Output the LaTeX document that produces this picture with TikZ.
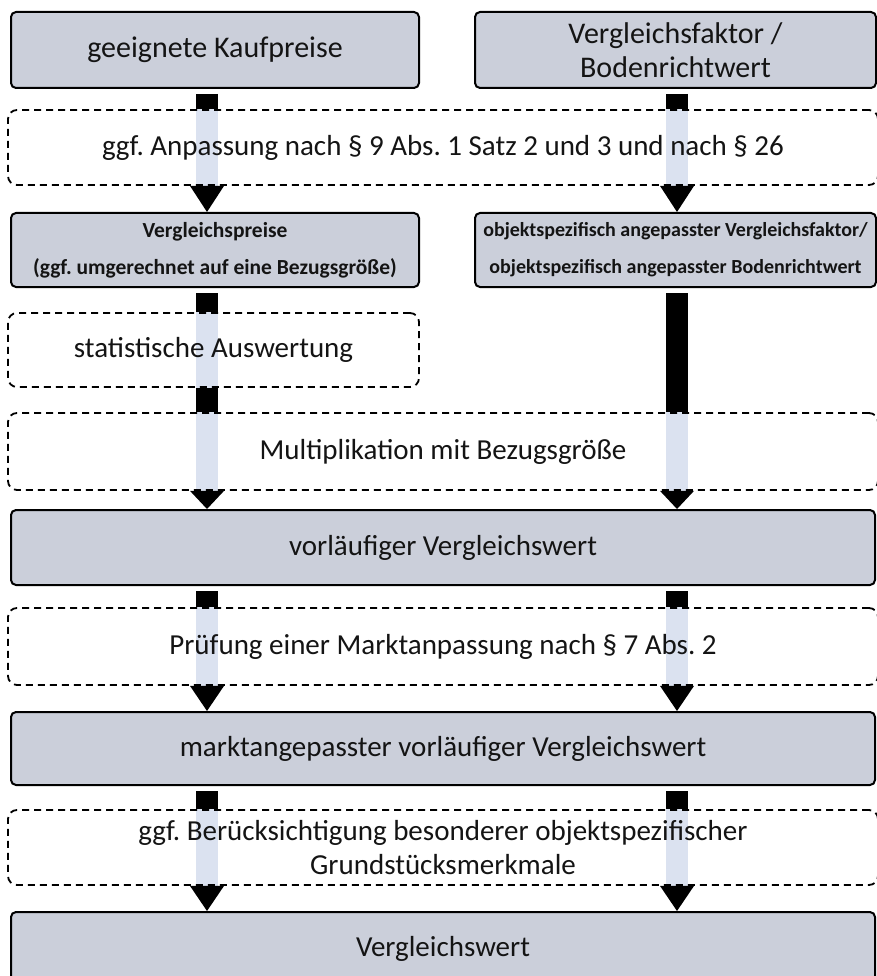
\documentclass[tikz,border=0pt]{standalone}
\usepackage{fontspec}
\setmainfont{Carlito}
\usetikzlibrary{calc,backgrounds}
\definecolor{boxgray}{RGB}{203,207,218}
\definecolor{barlight}{RGB}{219,226,240}
\definecolor{txt}{RGB}{20,20,20}
\tikzset{
  graybox/.style={draw=black, line width=2pt, fill=boxgray, rounded corners=5pt, inner sep=0pt, align=center, text=txt},
  dashbox/.style={draw=black, line width=1.8pt, dash pattern=on 7pt off 5pt, rounded corners=9pt, inner sep=0pt, align=center, text=txt},
  bigtext/.style={font=\fontsize{29}{34}\selectfont},
  toptext/.style={font=\fontsize{30}{34}\selectfont},
  smalltext/.style={font=\bfseries\fontsize{21.5}{37}\selectfont},
  smallertext/.style={font=\bfseries\fontsize{20}{37}\selectfont},
  barblack/.style={line width=22pt, draw=black},
  barpale/.style={line width=22pt, draw=barlight},
  headfill/.style={fill=black},
}
\begin{document}
\frenchspacing
\begin{tikzpicture}[x=1pt,y=-1pt]
\useasboundingbox (0,0) rectangle (877,976);
\begin{pgfonlayer}{background}
\fill[white] (0,0) rectangle (877,976);
\end{pgfonlayer}
\clip (0,0) rectangle (877,976);

% boxes
\node[graybox,toptext,minimum width=408pt,minimum height=76pt] (b1) at (215,50) {geeignete Kaufpreise};
\node[graybox,toptext,minimum width=401pt,minimum height=76pt] (b2) at (675.5,50) {Vergleichsfaktor /\\Bodenrichtwert};
\node[dashbox,bigtext,minimum width=870pt,minimum height=75pt] (d1) at (443,147.5) {ggf. Anpassung nach § 9 Abs. 1 Satz 2 und 3 und nach § 26};
\node[graybox,smalltext,minimum width=408pt,minimum height=74pt] (b3) at (215,250) {Vergleichspreise\\(ggf. umgerechnet auf eine Bezugsgröße)};
\node[graybox,smallertext,minimum width=401pt,minimum height=74pt] (b4) at (675.5,250) {objektspezifisch angepasster Vergleichsfaktor/\\objektspezifisch angepasster Bodenrichtwert};
\node[dashbox,bigtext,minimum width=411pt,minimum height=74pt] (d2) at (213.5,350) {statistische Auswertung};
\node[dashbox,bigtext,minimum width=870pt,minimum height=77pt] (d3) at (443,451.5) {Multiplikation mit Bezugsgröße};
\node[graybox,bigtext,minimum width=864pt,minimum height=75pt] (b5) at (443,547.5) {vorläufiger Vergleichswert};
\node[dashbox,bigtext,minimum width=870pt,minimum height=77pt] (d4) at (443,646.5) {Prüfung einer Marktanpassung nach § 7 Abs. 2};
\node[graybox,bigtext,minimum width=864pt,minimum height=73pt] (b6) at (443,748.5) {marktangepasster vorläufiger Vergleichswert};
\node[dashbox,bigtext,minimum width=870pt,minimum height=75pt] (d5) at (443,847.5) {ggf. Berücksichtigung besonderer objektspezifischer\\Grundstücksmerkmale};
\node[graybox,bigtext,minimum width=864pt,minimum height=74pt] (b7) at (443,949) {Vergleichswert};

\coordinate (xl) at (207,0);
\coordinate (xr) at (677,0);

% pale parts of the bars, behind the texts
\begin{pgfonlayer}{background}
\foreach \d in {d1,d3,d4,d5} {
  \draw[barpale] (\d.north -| xl) -- (\d.south -| xl);
  \draw[barpale] (\d.north -| xr) -- (\d.south -| xr);
}
\draw[barpale] (d2.north -| xl) -- (d2.south -| xl);
\end{pgfonlayer}

% left column
\draw[barblack] ($(b1.south -| xl)+(0,5)$) -- (d1.north -| xl);
\fill[headfill] ($(d1.south -| xl)+(-17,0)$) -- ($(d1.south -| xl)+(17,0)$) -- (b3.north -| xl) -- cycle;
\draw[barblack] ($(b3.south -| xl)+(0,5)$) -- (d2.north -| xl);
\draw[barblack] (d2.south -| xl) -- (d3.north -| xl);
\fill[headfill] ($(d3.south -| xl)+(-17,0)$) -- ($(d3.south -| xl)+(17,0)$) -- (b5.north -| xl) -- cycle;
\draw[barblack] ($(b5.south -| xl)+(0,5)$) -- (d4.north -| xl);
\fill[headfill] ($(d4.south -| xl)+(-17,0)$) -- ($(d4.south -| xl)+(17,0)$) -- (b6.north -| xl) -- cycle;
\draw[barblack] ($(b6.south -| xl)+(0,5)$) -- (d5.north -| xl);
\fill[headfill] ($(d5.south -| xl)+(-17,0)$) -- ($(d5.south -| xl)+(17,0)$) -- (b7.north -| xl) -- cycle;

% right column
\draw[barblack] ($(b2.south -| xr)+(0,5)$) -- (d1.north -| xr);
\fill[headfill] ($(d1.south -| xr)+(-17,0)$) -- ($(d1.south -| xr)+(17,0)$) -- (b4.north -| xr) -- cycle;
\draw[barblack] ($(b4.south -| xr)+(0,5)$) -- (d3.north -| xr);
\fill[headfill] ($(d3.south -| xr)+(-17,0)$) -- ($(d3.south -| xr)+(17,0)$) -- (b5.north -| xr) -- cycle;
\draw[barblack] ($(b5.south -| xr)+(0,5)$) -- (d4.north -| xr);
\fill[headfill] ($(d4.south -| xr)+(-17,0)$) -- ($(d4.south -| xr)+(17,0)$) -- (b6.north -| xr) -- cycle;
\draw[barblack] ($(b6.south -| xr)+(0,5)$) -- (d5.north -| xr);
\fill[headfill] ($(d5.south -| xr)+(-17,0)$) -- ($(d5.south -| xr)+(17,0)$) -- (b7.north -| xr) -- cycle;
\end{tikzpicture}
\end{document}
